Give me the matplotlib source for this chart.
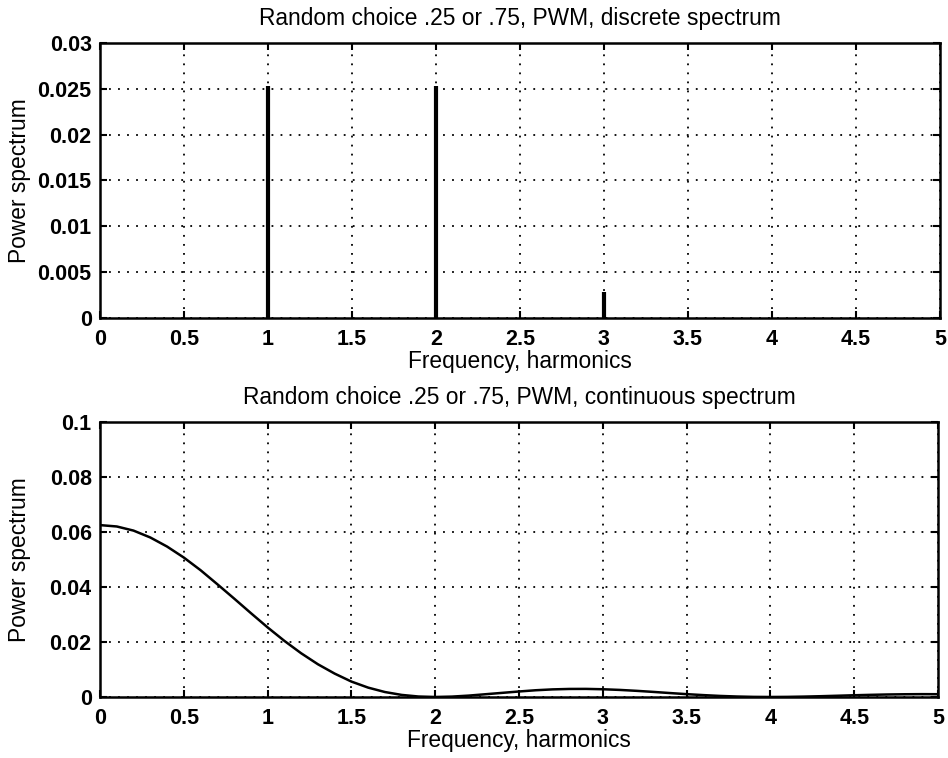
import matplotlib
matplotlib.use('Agg')
import matplotlib.pyplot as plt
import numpy as np

plt.rcParams['font.family'] = ['Liberation Sans', 'DejaVu Sans']

# discrete spectrum lines
harm = [1, 2, 3]
harm_power = [0.0253, 0.0253, 0.0028]

# continuous spectrum, read every 0.1 harmonic
freq = [0.0, 0.1, 0.2, 0.3, 0.4, 0.5, 0.6, 0.7, 0.8, 0.9,
        1.0, 1.1, 1.2, 1.3, 1.4, 1.5, 1.6, 1.7, 1.8, 1.9,
        2.0, 2.1, 2.2, 2.3, 2.4, 2.5, 2.6, 2.7, 2.8, 2.9,
        3.0, 3.1, 3.2, 3.3, 3.4, 3.5, 3.6, 3.7, 3.8, 3.9,
        4.0, 4.1, 4.2, 4.3, 4.4, 4.5, 4.6, 4.7, 4.8, 4.9, 5.0]
power = [0.0625, 0.0620, 0.0605, 0.0580, 0.0547, 0.0507, 0.0461, 0.0410, 0.0358, 0.0305,
         0.0253, 0.0204, 0.0159, 0.0119, 0.0085, 0.0056, 0.0034, 0.0018, 0.00075, 0.00017,
         0.0, 0.00014, 0.0005, 0.001, 0.0015, 0.002, 0.00245, 0.00276, 0.00292, 0.00294,
         0.00281, 0.00257, 0.00224, 0.00185, 0.00143, 0.00103, 0.00068, 0.00038, 0.00017, 0.00004,
         0.0, 0.00004, 0.00014, 0.00028, 0.00045, 0.00063, 0.00078, 0.00091, 0.00099, 0.00103, 0.00101]

xticks = np.arange(0, 5.01, 0.5)
xlabels = ['0', '0.5', '1', '1.5', '2', '2.5', '3', '3.5', '4', '4.5', '5']

fig = plt.figure(figsize=(9.48, 7.58), dpi=100)
ax1 = fig.add_axes([0.1055, 0.5805, 0.886, 0.3628])
ax2 = fig.add_axes([0.1055, 0.0805, 0.884, 0.3628])

tfs = 15.5   # tick labels
lfs = 16.4   # axis labels and titles

def style(ax, yticks, ylabels, title):
    ax.set_xlim(0, 5)
    ax.set_xticks(xticks)
    ax.set_xticklabels(xlabels, fontsize=tfs, fontweight='bold')
    ax.set_yticks(yticks)
    ax.set_yticklabels(ylabels, fontsize=tfs, fontweight='bold')
    ax.set_ylim(yticks[0], yticks[-1])
    ax.tick_params(direction='in', length=5, width=1.5, top=True, right=True)
    ax.tick_params(axis='x', pad=8)
    ax.tick_params(axis='y', pad=6)
    ax.grid(True, color='black', linestyle=(0, (1, 4)), linewidth=1.3)
    for s in ax.spines.values():
        s.set_linewidth(1.8)
    ax.set_xlabel('Frequency, harmonics', fontsize=lfs, labelpad=0)
    ax.set_ylabel('Power spectrum', fontsize=lfs)
    ax.yaxis.set_label_coords(-0.082, 0.5)
    ax.set_title(title, fontsize=lfs, pad=13)

# top: discrete
ax1.vlines(harm, 0, harm_power, color='black', linewidth=3)
style(ax1, [0, 0.005, 0.01, 0.015, 0.02, 0.025, 0.03],
      ['0', '0.005', '0.01', '0.015', '0.02', '0.025', '0.03'],
      'Random choice .25 or .75, PWM, discrete spectrum')

# bottom: continuous
ax2.plot(freq, power, color='black', linewidth=1.8)
style(ax2, [0, 0.02, 0.04, 0.06, 0.08, 0.1],
      ['0', '0.02', '0.04', '0.06', '0.08', '0.1'],
      'Random choice .25 or .75, PWM, continuous spectrum')

fig.savefig('out.png', dpi=100)
